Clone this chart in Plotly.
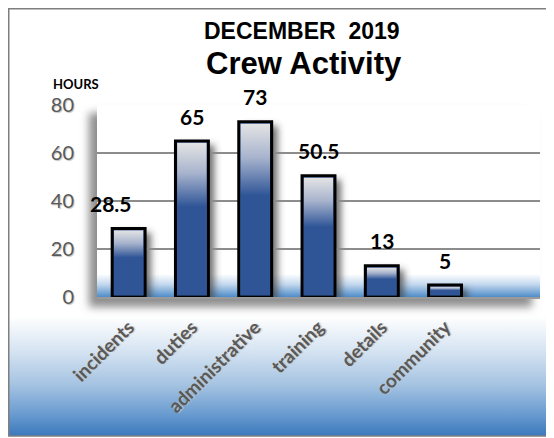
import base64
import plotly.graph_objects as go

categories = ["incidents", "duties", "administrative", "training", "details", "community"]
hours = [28.5, 65, 73, 50.5, 13, 5]
label_text = ["28.5", "65", "73", "50.5", "13", "5"]
y_ticks = [0, 20, 40, 60, 80]

# ---- layout geometry (figure px; page body adds an 8px offset) ----
W, H = 554, 438
OFF = 8
ML, MR, MT, MB = 97 - OFF, 22, 105 - OFF, 149
PW, PH = W - ML - MR, H - MT - MB
XR = (-0.5, 6.5)
YR = (0, 80)
PX_X = PW / (XR[1] - XR[0])
PX_Y = PH / (YR[1] - YR[0])
BAR_W = 0.52
BAR_BLUE = "#2f5597"
LABEL_DX = [-18, 0, 0, 0, 0, 0]


def svg_uri(svg):
    return "data:image/svg+xml;base64," + base64.b64encode(svg.encode()).decode()


def px_to_paper_x(sx):
    return (sx - OFF - ML) / PW


def px_to_paper_y(sy):
    return (MT + PH - (sy - OFF)) / PH


# ---- background: frame gradient, plot-area shadow, white plot, floor band ----
FB = 436 - OFF  # frame bottom in figure px
bg_svg = f"""<svg xmlns='http://www.w3.org/2000/svg' width='{W}' height='{H}' viewBox='0 0 {W} {H}' preserveAspectRatio='none'>
<defs>
<linearGradient id='pg' gradientUnits='userSpaceOnUse' x1='0' y1='0' x2='0' y2='{FB}'>
<stop offset='0' stop-color='#ffffff'/>
<stop offset='0.72' stop-color='#ffffff'/>
<stop offset='0.80' stop-color='#d6e4f2'/>
<stop offset='0.88' stop-color='#a5c3e2'/>
<stop offset='0.945' stop-color='#6d9ed1'/>
<stop offset='1' stop-color='#3b78bc'/>
</linearGradient>
<linearGradient id='fl' x1='0' y1='0' x2='0' y2='1'>
<stop offset='0' stop-color='#ffffff'/>
<stop offset='0.45' stop-color='#c3d8ee'/>
<stop offset='1' stop-color='#4f8cc9'/>
</linearGradient>
<filter id='bl' x='-20%' y='-20%' width='140%' height='140%'><feGaussianBlur stdDeviation='4'/></filter>
</defs>
<rect x='0' y='0' width='{W}' height='{H}' fill='#ffffff'/>
<rect x='0.75' y='0.75' width='{W + 10}' height='{FB - 0.75}' fill='url(#pg)' stroke='#7f7f7f' stroke-width='1.5'/>
<rect x='{ML - 8}' y='{MT + 8}' width='{PW}' height='{PH + 2}' fill='#7a7a7a' fill-opacity='0.85' filter='url(#bl)'/>
<rect x='{ML}' y='{MT}' width='{PW}' height='{PH}' fill='#ffffff'/>
<rect x='{ML}' y='{MT + PH - 23}' width='{PW}' height='23' fill='url(#fl)'/>
</svg>"""

images = [dict(
    source=svg_uri(bg_svg), xref="paper", yref="paper",
    x=-ML / PW, y=(MT + PH) / PH,
    sizex=W / PW, sizey=H / PH, xanchor="left", yanchor="top",
    sizing="stretch", layer="below",
)]

# ---- bar shadows and bar gradients ----
PAD = 14
for i, v in enumerate(hours):
    bw = BAR_W * PX_X
    bh = v * PX_Y
    sh_svg = f"""<svg xmlns='http://www.w3.org/2000/svg' width='{bw + 2 * PAD:.1f}' height='{bh + 2 * PAD:.1f}' viewBox='0 0 {bw + 2 * PAD:.1f} {bh + 2 * PAD:.1f}' preserveAspectRatio='none'>
<defs><filter id='b' x='-50%' y='-50%' width='200%' height='200%'><feGaussianBlur stdDeviation='3.5'/></filter></defs>
<rect x='{PAD + 6}' y='{PAD + 4}' width='{bw:.1f}' height='{bh:.1f}' fill='#404040' fill-opacity='0.75' filter='url(#b)'/>
</svg>"""
    images.append(dict(
        source=svg_uri(sh_svg), xref="x", yref="y",
        x=i - BAR_W / 2 - PAD / PX_X, y=v + PAD / PX_Y,
        sizex=BAR_W + 2 * PAD / PX_X, sizey=v + 2 * PAD / PX_Y,
        xanchor="left", yanchor="top", sizing="stretch", layer="below",
    ))
    gr_svg = """<svg xmlns='http://www.w3.org/2000/svg' width='100' height='100' viewBox='0 0 100 100' preserveAspectRatio='none'>
<defs><linearGradient id='g' x1='0' y1='0' x2='0' y2='1'>
<stop offset='0' stop-color='#e4e4e4'/>
<stop offset='0.2' stop-color='#a7b3cd'/>
<stop offset='0.42' stop-color='%s'/>
<stop offset='1' stop-color='%s'/>
</linearGradient></defs>
<rect x='0' y='0' width='100' height='100' fill='url(#g)'/>
</svg>""" % (BAR_BLUE, BAR_BLUE)
    inset = 1.6
    images.append(dict(
        source=svg_uri(gr_svg), xref="x", yref="y",
        x=i - BAR_W / 2 + inset / PX_X, y=v - inset / PX_Y,
        sizex=BAR_W - 2 * inset / PX_X, sizey=v - 2 * inset / PX_Y,
        xanchor="left", yanchor="top", sizing="stretch", layer="above",
    ))

fig = go.Figure()
fig.add_trace(go.Bar(
    x=list(range(len(categories))), y=hours, width=BAR_W,
    marker=dict(color=BAR_BLUE, line=dict(color="#000000", width=3)),
    hoverinfo="skip",
))

annotations = []
for i, (v, t) in enumerate(zip(hours, label_text)):
    annotations.append(dict(
        x=i, y=v, text=f"<b>{t}</b>", showarrow=False, xref="x", yref="y",
        xanchor="center", yanchor="middle", yshift=25, xshift=LABEL_DX[i],
        font=dict(family="Lato", size=21, color="#000000"),
    ))

annotations += [
    dict(text="<b>DECEMBER  2019</b>", x=px_to_paper_x(302), y=px_to_paper_y(31),
         xref="paper", yref="paper", showarrow=False, xanchor="center", yanchor="middle",
         font=dict(family="Liberation Sans", size=23, color="#000000")),
    dict(text="<b>Crew Activity</b>", x=px_to_paper_x(304), y=px_to_paper_y(64),
         xref="paper", yref="paper", showarrow=False, xanchor="center", yanchor="middle",
         font=dict(family="Liberation Sans", size=31, color="#000000")),
    dict(text="<b>HOURS</b>", x=px_to_paper_x(75.5), y=px_to_paper_y(84),
         xref="paper", yref="paper", showarrow=False, xanchor="center", yanchor="middle",
         font=dict(family="Lato", size=13, color="#000000")),
]

fig.update_layout(
    width=W, height=H,
    margin=dict(l=ML, r=MR, t=MT, b=MB, pad=0),
    paper_bgcolor="#ffffff", plot_bgcolor="#ffffff",
    showlegend=False, images=images, annotations=annotations,
)
fig.update_xaxes(
    range=list(XR), tickvals=list(range(len(categories))), ticktext=categories,
    tickangle=-45, showgrid=False, zeroline=False,
    showline=True, linecolor="#9a9a9a", linewidth=1.5, ticks="",
    ticklabelstandoff=10,
    tickfont=dict(family="Lato", size=19, color="#595959", weight="bold",
                  shadow="1px 1px 1px #c4c4c4"),
)
fig.update_yaxes(
    range=list(YR), tickvals=y_ticks, showgrid=True, gridcolor="#8c8c8c",
    gridwidth=1.5, zeroline=False, showline=False, ticks="",
    ticklabelstandoff=22,
    tickfont=dict(family="Lato", size=20, color="#595959",
                  shadow="1px 1px 1px #c4c4c4"),
)

fig.write_html("out.html")
